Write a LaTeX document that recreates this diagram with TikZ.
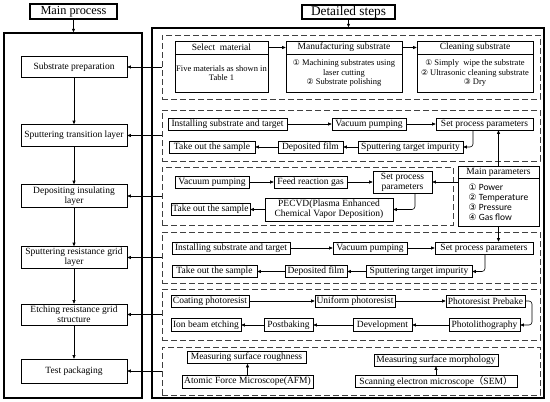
\documentclass[tikz,border=0pt]{standalone}
\usepackage{fontspec}
\setmainfont{Liberation Serif}
\newfontfamily\carl{Carlito}
\newfontfamily\circf{DejaVu Sans}
\newfontfamily\cjk{Noto Sans CJK SC}
\usetikzlibrary{arrows.meta}
\newcommand{\cnum}[1]{{\circf\fontsize{7.8}{8}\selectfont #1}}
\newcommand{\cnumb}[1]{{\circf\fontsize{8.8}{9}\selectfont #1}}
\tikzset{
  wh/.style 2 args={minimum width=#1pt, minimum height=#2pt},
  tbox/.style={draw, line width=1.5pt, inner sep=0pt},
  outer/.style={draw, line width=1.5pt, inner sep=0pt},
  mb/.style={draw, line width=0.6pt, inner sep=0pt, align=center, font=\fontsize{9.5}{10}\selectfont},
  sb/.style={draw, line width=0.6pt, inner sep=0pt, align=center, font=\fontsize{9.5}{10}\selectfont},
  body/.style={draw, line width=0.6pt, inner sep=0pt, align=center, font=\fontsize{8.5}{9.3}\selectfont},
  grp/.style={draw=black!75, line width=0.7pt, dash pattern=on 6pt off 3pt, inner sep=0pt},
  arr/.style={line width=0.6pt, -{Triangle[length=3.5pt,width=3pt]}},
}
\begin{document}
\begin{tikzpicture}[x=1pt,y=-1pt]
\useasboundingbox (0,0) rectangle (550,402);
% titles and outer frames
\node[tbox, wh={87}{15}, font=\fontsize{12.3}{13}\selectfont] (mpt) at (73.5,11.5) {Main process};
\node[tbox, wh={93}{14}, font=\fontsize{13.3}{14}\selectfont] (dst) at (348.5,12) {Detailed steps};
\node[outer, wh={138}{365}] (mainbox) at (73,215.5) {};
\node[outer, wh={392}{370}] (detbox) at (348,213) {};
\draw[arr] (mpt.south) -- (mpt.south |- mainbox.north);
\draw[arr] (dst.south) -- (dst.south |- detbox.north);

% main process
\node[mb, wh={106}{21}] (m1) at (74,67) {Substrate preparation};
\node[mb, wh={106}{22}] (m2) at (74,135.5) {Sputtering transition layer};
\node[mb, wh={106}{23}] (m3) at (74,196) {Depositing insulating\\layer};
\node[mb, wh={106}{22}] (m4) at (74,257.5) {Sputtering resistance grid\\layer};
\node[mb, wh={106}{21}] (m5) at (74,314.5) {Etching resistance grid\\structure};
\node[mb, wh={106}{24}] (m6) at (74,371) {Test packaging};
\draw[arr] (m1.south) -- (m2.north);
\draw[arr] (m2.south) -- (m3.north);
\draw[arr] (m3.south) -- (m4.north);
\draw[arr] (m4.south) -- (m5.north);
\draw[arr] (m5.south) -- (m6.north);

% groups
\node[grp, wh={378}{64}] (g1) at (351,67) {};
\node[grp, wh={378}{51}] (g2) at (351,135.5) {};
\node[grp, wh={291}{58}] (g3) at (307.5,196) {};
\node[grp, wh={378}{51}] (g4) at (351,257.5) {};
\node[grp, wh={378}{51}] (g5) at (351,314.5) {};
\node[grp, wh={378}{48}] (g6) at (351,371) {};
\draw[arr] (g1.west) -- (m1.east);
\draw[arr] (g2.west) -- (m2.east);
\draw[arr] (g3.west) -- (m3.east);
\draw[arr] (g4.west) -- (m4.east);
\draw[arr] (g5.west) -- (m5.east);
\draw[arr] (g6.west) -- (m6.east);

% group 1
\node[sb, wh={93}{13}] (selh) at (221.5,47.5) {Select\ \ material};
\node[body, wh={93}{38}] (selb) at (221.5,73) {Five materials as shown in\\Table 1};
\node[sb, wh={116}{13}] (manh) at (344,47.5) {Manufacturing substrate};
\node[body, wh={116}{38}] (manb) at (344,73) {\cnum{①} Machining substrates using\\laser cutting\\\cnum{②} Substrate polishing};
\node[sb, wh={116}{13}] (clnh) at (475,47.5) {Cleaning substrate};
\node[body, wh={116}{38}] (clnb) at (475,73) {\cnum{①} Simply\ \ wipe the substrate\\\cnum{②} Ultrasonic cleaning substrate\\\cnum{③} Dry};
\draw[arr] (selh.east) -- (manh.west);
\draw[arr] (manh.east) -- (clnh.west);

% group 2
\node[sb, wh={119}{12}] (ins2) at (227.5,124) {Installing substrate and target};
\node[sb, wh={74}{12}] (vac2) at (369,124) {Vacuum pumping};
\node[sb, wh={97}{12}] (set2) at (484.5,124) {Set process parameters};
\node[sb, wh={86}{12}] (tak2) at (212,147) {Take out the sample};
\node[sb, wh={65}{12}] (dep2) at (310.5,147) {Deposited film};
\node[sb, wh={105}{12}] (spt2) at (410.5,147) {Sputtering target impurity};
\coordinate (e2) at (473,147);
\draw[arr] (ins2) -- (vac2);
\draw[arr] (vac2) -- (set2);
\draw[arr, rounded corners=3pt] (e2 |- set2.south) -- (e2) -- (spt2.east);
\draw[arr] (spt2) -- (dep2);
\draw[arr] (dep2) -- (tak2);

% main parameters
\node[sb, wh={81}{12}] (mph) at (498.5,172) {Main parameters};
\node[draw, line width=0.6pt, inner sep=0pt, wh={81}{48}, align=left, font=\carl\fontsize{9.5}{10}\selectfont] (mpb) at (498.5,202) {\cnumb{①} Power\\\cnumb{②} Temperature\\\cnumb{③} Pressure\\\cnumb{④} Gas flow};
\draw[arr] (mph.north) -- (mph.north |- set2.south);

% group 3
\node[sb, wh={74}{12}] (vac3) at (212,182) {Vacuum pumping};
\node[sb, wh={73}{12}] (fed3) at (310.5,182) {Feed reaction gas};
\node[sb, wh={59}{22}] (set3) at (402.5,182) {Set process\\parameters};
\node[sb, wh={128}{23}] (pec3) at (329,209.5) {PECVD(Plasma Enhanced\\Chemical Vapor Deposition)};
\node[sb, wh={79}{12}] (tak3) at (210.5,209.5) {Take out the sample};
\coordinate (e3) at (415,209.5);
\draw[arr] (vac3) -- (fed3);
\draw[arr] (fed3) -- (set3);
\draw[arr, rounded corners=3pt] (e3 |- set3.south) -- (e3) -- (pec3.east);
\draw[arr] (pec3) -- (tak3);
\draw[arr] (mpb.west |- set3.east) -- (set3.east);

% group 4
\node[sb, wh={118}{12}] (ins4) at (231,248) {Installing substrate and target};
\node[sb, wh={74}{12}] (vac4) at (370,248) {Vacuum pumping};
\node[sb, wh={98}{12}] (set4) at (484,248) {Set process parameters};
\node[sb, wh={85}{12}] (tak4) at (214.5,271.5) {Take out the sample};
\node[sb, wh={62}{12}] (dep4) at (316,271.5) {Deposited film};
\node[sb, wh={106}{12}] (spt4) at (419,271.5) {Sputtering target impurity};
\coordinate (e4) at (485,271.5);
\draw[arr] (ins4) -- (vac4);
\draw[arr] (vac4) -- (set4);
\draw[arr, rounded corners=3pt] (e4 |- set4.south) -- (e4) -- (spt4.east);
\draw[arr] (spt4) -- (dep4);
\draw[arr] (dep4) -- (tak4);
\draw[arr] (mpb.south) -- (mpb.south |- set4.north);

% group 5
\node[sb, wh={78}{12}] (coa5) at (210,301) {Coating photoresist};
\node[sb, wh={80}{12}] (uni5) at (355,301) {Uniform photoresist};
\node[sb, wh={79}{12}] (pre5) at (485.5,301) {Photoresist Prebake};
\node[sb, wh={70}{13}] (ion5) at (206,325) {Ion beam etching};
\node[sb, wh={49}{13}] (pos5) at (288.5,325) {Postbaking};
\node[sb, wh={59}{13}] (dev5) at (382.5,325) {Development};
\node[sb, wh={71}{13}] (pho5) at (484.5,325) {Photolithography};
\coordinate (e5a) at (532,301);
\coordinate (e5b) at (532,325);
\draw[arr] (coa5) -- (uni5);
\draw[arr] (uni5) -- (pre5);
\draw[arr, rounded corners=3pt] (pre5.east) -- (e5a) -- (e5b) -- (pho5.east);
\draw[arr] (pho5) -- (dev5);
\draw[arr] (dev5) -- (pos5);
\draw[arr] (pos5) -- (ion5);

% group 6
\node[sb, wh={119}{12}] (msr6) at (246.5,357.5) {Measuring surface roughness};
\node[sb, wh={131}{13}] (afm6) at (247.5,381.5) {Atomic Force Microscope(AFM)};
\node[sb, wh={124}{12}] (msm6) at (436,360) {Measuring surface morphology};
\node[sb, wh={162}{12}] (sem6) at (436,381.5) {Scanning electron microscope{\cjk（}SEM{\cjk）}};
\draw[arr] (afm6.north) -- (afm6.north |- msr6.south);
\draw[arr] (sem6.north) -- (sem6.north |- msm6.south);
\end{tikzpicture}
\end{document}
